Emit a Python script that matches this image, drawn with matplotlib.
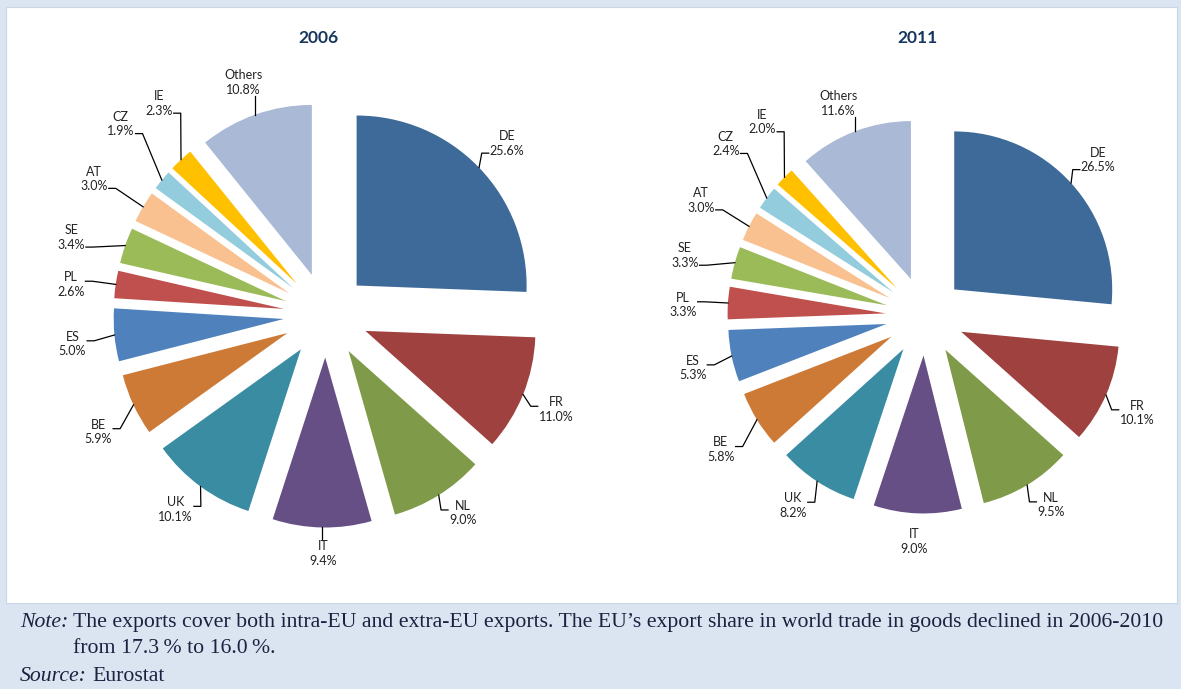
import matplotlib
matplotlib.use("Agg")
import matplotlib.pyplot as plt
from matplotlib.patches import Rectangle
import numpy as np

W, H = 1181, 689

countries = ["DE", "FR", "NL", "IT", "UK", "BE", "ES", "PL", "SE", "AT", "CZ", "IE", "Others"]
share_2006 = [25.6, 11.0, 9.0, 9.4, 10.1, 5.9, 5.0, 2.6, 3.4, 3.0, 1.9, 2.3, 10.8]
share_2011 = [26.5, 10.1, 9.5, 9.0, 8.2, 5.8, 5.3, 3.3, 3.3, 3.0, 2.4, 2.0, 11.6]

colors = ["#3e6a9a", "#9e413f", "#7f9a48", "#664f85", "#3a8ca3", "#cd7a37",
          "#4f81bd", "#c0504d", "#9bbb59", "#f9c090", "#93cddd", "#ffc000", "#a9b9d6"]

# label centre relative to the outer mid-point of each wedge (px, x right / y down)
offsets_2006 = [(28, -24), (33, 15), (24, 18), (1, 26), (-25, 23), (-35, 27), (-42, 9),
                (-45, 0), (-54, -8), (-49, -28), (-41, -56), (-22, -56), (-12, -32)]
offsets_2011 = [(27, -23), (31, 18), (24, 20), (-3, 28), (-24, 24), (-36, 30), (-39, 12),
                (-45, 2), (-50, -7), (-48, -26), (-41, -54), (-22, -55), (-16, -28)]
# leader style: "h" = elbow with short horizontal run, "v" = straight vertical, None = no line
leaders_2006 = ["h", "h", "h", "v", "h", "h", "h", "h", "h", "h", "h", "h", "v"]
leaders_2011 = ["h", "h", "h", None, "h", "h", "h", "h", "h", "h", "h", "h", "v"]

LABEL_FONT = dict(family="Lato", fontsize=9, color="#222222", linespacing=1.25)
NOTE_FONT = dict(family="Liberation Serif", fontsize=15.7, color="#1a2240")
BLUE_BG = "#dbe5f1"
EXPLODE = 0.25  # fraction of the radius

fig = plt.figure(figsize=(W / 100, H / 100), dpi=100, facecolor=BLUE_BG)
ax = fig.add_axes([0, 0, 1, 1])
ax.set_xlim(0, W)
ax.set_ylim(0, H)
ax.axis("off")

# white chart panel
ax.add_patch(Rectangle((6, H - 603), 1171, 596, facecolor="white",
                       edgecolor="#c9d6e8", lw=0.8, zorder=0))


def draw_pie(values, center, radius, offsets, leaders, title, title_x):
    cx, cy = center
    wedges, _ = ax.pie(values, colors=colors, startangle=90, counterclock=False,
                       explode=[EXPLODE * radius] * len(values), radius=radius,
                       center=(cx, H - cy), wedgeprops=dict(linewidth=0),
                       frame=True)
    ax.text(title_x, H - 38, title, ha="center", va="center", family="Lato",
            fontsize=12.5, fontweight="bold", color="#17365d")

    labels = []
    for w, name, v, (dx, dy), mode in zip(wedges, countries, values, offsets, leaders):
        mid = np.deg2rad((w.theta1 + w.theta2) / 2)
        px = w.center[0] + w.r * np.cos(mid)
        py = w.center[1] + w.r * np.sin(mid)
        t = ax.text(px + dx, py - dy, f"{name}\n{v:.1f}%", ha="center",
                    va="center", **LABEL_FONT)
        labels.append((t, px, py, dx, dy, mode))
    return labels


pies = [
    draw_pie(share_2006, (326, 315), 170, offsets_2006, leaders_2006, "2006", 318),
    draw_pie(share_2011, (925, 316), 158, offsets_2011, leaders_2011, "2011", 918),
]
ax.set_xlim(0, W)
ax.set_ylim(0, H)
ax.set_aspect("auto")

# leader lines need the rendered label boxes
fig.canvas.draw()
inv = ax.transData.inverted()
for labels in pies:
    for t, px, py, dx, dy, mode in labels:
        if mode is None:
            continue
        (x0, y0), (x1, y1) = inv.transform(t.get_window_extent())
        h = y1 - y0
        ly = (y0 + y1) / 2
        if mode == "v":
            end = y0 if dy < 0 else y1
            ax.plot([px, px], [py, end], color="black", lw=0.9)
            continue
        ty = ly - 0.36 * h if dy < 0 else ly + 0.12 * h
        if dx > 0:
            tx, kx = x0 - 1, x0 - 8
        else:
            tx, kx = x1 + 1, x1 + 8
        ax.plot([px, kx, tx], [py, ty, ty], color="black", lw=0.9)

# footnote
note_lbl = ax.text(20, H - 632, "Note:", style="italic", va="bottom", **NOTE_FONT)
note_txt = ax.annotate("The exports cover both intra-EU and extra-EU exports. The EU\u2019s "
                       "export share in world trade in goods declined in 2006-2010",
                       xy=(1, 0), xycoords=note_lbl, xytext=(5, 0),
                       textcoords="offset pixels", va="bottom", **NOTE_FONT)
ax.annotate("from 17.3\u2009% to 16.0\u2009%.", xy=(0, 0), xycoords=note_txt,
            xytext=(0, -26), textcoords="offset pixels", va="bottom", **NOTE_FONT)
src_lbl = ax.text(20, H - 686, "Source:", style="italic", va="bottom", **NOTE_FONT)
ax.annotate("Eurostat", xy=(1, 0), xycoords=src_lbl, xytext=(5, 0),
            textcoords="offset pixels", va="bottom", **NOTE_FONT)

fig.savefig("out.png", dpi=100, facecolor=BLUE_BG)
